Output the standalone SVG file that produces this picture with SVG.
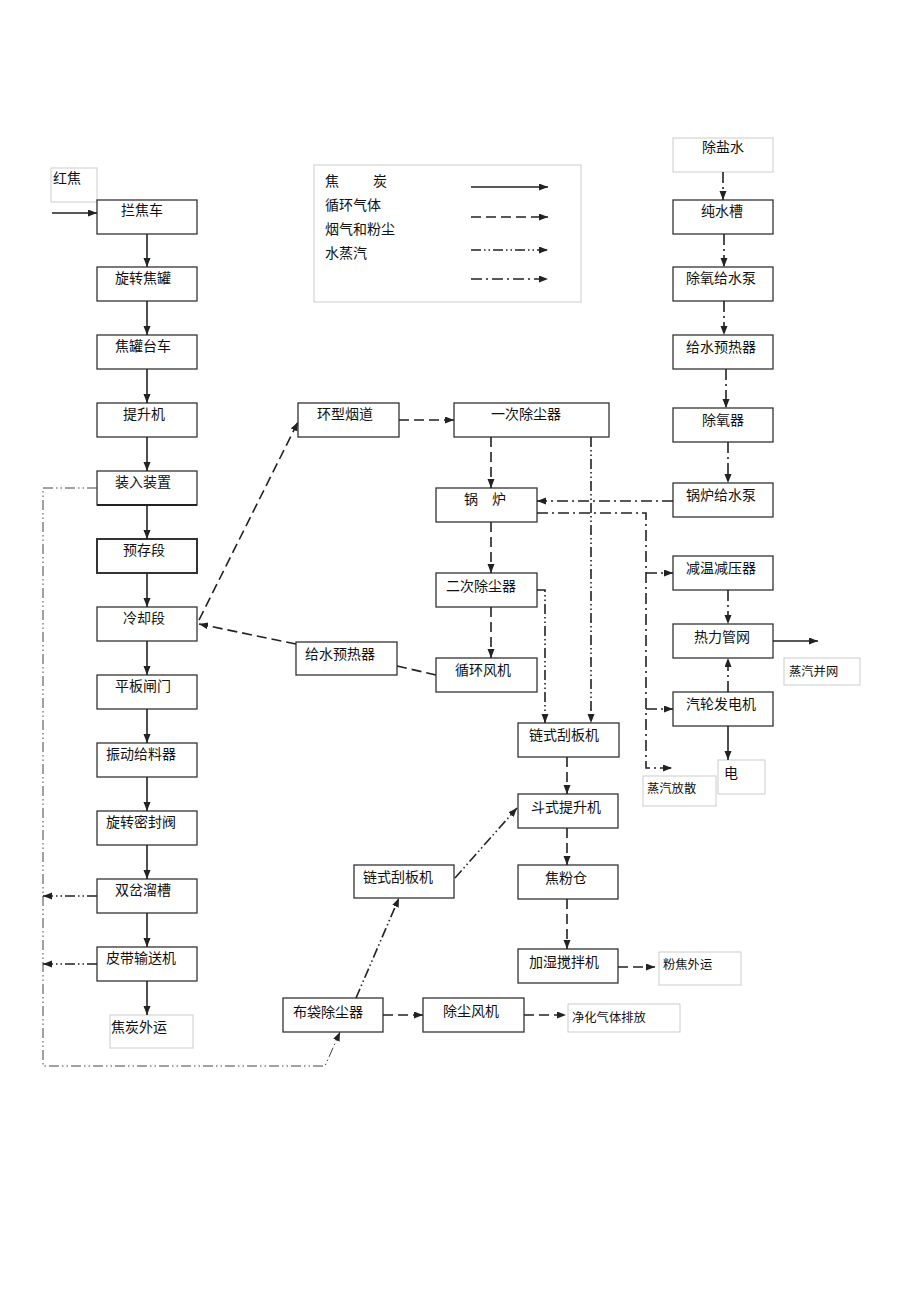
<svg xmlns="http://www.w3.org/2000/svg" width="920" height="1303" viewBox="0 0 920 1303">
<style>
.box{fill:#fff;stroke:#333;stroke-width:1.3}
.lbox{fill:#fff;stroke:#ccc;stroke-width:1}
.t{font-family:"Noto Sans CJK SC","Noto Sans",sans-serif;font-size:14px;fill:#111}
.s{font-size:12.3px}
.c{fill:none;stroke:#222;stroke-width:1.6}
.dash{stroke-dasharray:10 5}
.ddd{stroke-dasharray:10 3 1.5 3 1.5 3}
.dd{stroke-dasharray:11 4 2 4}
.thin{stroke-width:1;stroke:#444}
</style>
<defs>
<marker id="a" markerUnits="userSpaceOnUse" markerWidth="10" markerHeight="8" refX="9" refY="3.5" orient="auto"><path d="M0,0 L9,3.5 L0,7 z" fill="#222"/></marker>
</defs>
<rect width="920" height="1303" fill="#fff"/>

<g id="legend">
<rect x="314" y="165" width="267" height="137" class="lbox"/>
<text class="t" y="186"><tspan x="325">焦</tspan><tspan x="373">炭</tspan></text>
<text class="t" x="325" y="210">循环气体</text>
<text class="t" x="325" y="234">烟气和粉尘</text>
<text class="t" x="325" y="258">水蒸汽</text>
<path class="c" d="M471,187 H548" marker-end="url(#a)"/>
<path class="c dash" d="M471,217 H548" marker-end="url(#a)"/>
<path class="c ddd" d="M471,250 H548" marker-end="url(#a)"/>
<path class="c dd" d="M471,279 H548" marker-end="url(#a)"/>
</g>

<g id="n-hongjiao"><rect x="51" y="168" width="46" height="34" class="lbox"/><text class="t" x="53" y="183">红焦</text></g>
<g id="n-lanjiaoche"><rect x="97" y="200" width="100" height="34" class="box"/><text class="t" x="121" y="215">拦焦车</text></g>
<g id="n-xuanzhuanjiaoguan"><rect x="97" y="267" width="100" height="34" class="box"/><text class="t" x="115" y="283">旋转焦罐</text></g>
<g id="n-jiaoguantaiche"><rect x="97" y="335" width="100" height="34" class="box"/><text class="t" x="115" y="351">焦罐台车</text></g>
<g id="n-tishengji"><rect x="97" y="403" width="100" height="34" class="box"/><text class="t" x="123" y="419">提升机</text></g>
<g id="n-zhuangru"><rect x="97" y="471" width="100" height="34" class="box"/><line x1="97" y1="505" x2="197" y2="505" stroke="#222" stroke-width="2"/><text class="t" x="115" y="487">装入装置</text></g>
<g id="n-yucunduan"><rect x="97" y="539" width="100" height="34" class="box" style="stroke-width:2"/><text class="t" x="123" y="555">预存段</text></g>
<g id="n-lengqueduan"><rect x="97" y="607" width="100" height="34" class="box"/><text class="t" x="123" y="623">冷却段</text></g>
<g id="n-pingbanzhamen"><rect x="97" y="675" width="100" height="34" class="box"/><text class="t" x="115" y="691">平板闸门</text></g>
<g id="n-zhendong"><rect x="97" y="743" width="100" height="34" class="box"/><text class="t" x="106" y="759">振动给料器</text></g>
<g id="n-xuanzhuanmifeng"><rect x="97" y="811" width="100" height="34" class="box"/><text class="t" x="106" y="827">旋转密封阀</text></g>
<g id="n-shuangcha"><rect x="97" y="879" width="100" height="34" class="box"/><text class="t" x="115" y="895">双岔溜槽</text></g>
<g id="n-pidai"><rect x="97" y="947" width="100" height="34" class="box"/><text class="t" x="106" y="963">皮带输送机</text></g>
<g id="n-jiaotanwaiyun"><rect x="110" y="1015" width="83" height="33" class="lbox"/><text class="t" x="111" y="1032">焦炭外运</text></g>

<g id="n-huanxingyandao"><rect x="298" y="403" width="101" height="34" class="box"/><text class="t" x="317" y="419">环型烟道</text></g>
<g id="n-yiciche"><rect x="454" y="403" width="155" height="34" class="box"/><text class="t" x="491" y="419">一次除尘器</text></g>
<g id="n-guolu"><rect x="436" y="488" width="101" height="34" class="box"/><text class="t" x="464" y="504">锅　炉</text></g>
<g id="n-ercichuchen"><rect x="436" y="573" width="101" height="34" class="box"/><text class="t" x="446" y="591">二次除尘器</text></g>
<g id="n-xunhuanfengji"><rect x="436" y="658" width="101" height="34" class="box"/><text class="t" x="455" y="675">循环风机</text></g>
<g id="n-geishuiyure1"><rect x="296" y="642" width="101" height="33" class="box"/><text class="t" x="305" y="659">给水预热器</text></g>
<g id="n-lianshi1"><rect x="518" y="723" width="101" height="34" class="box"/><text class="t" x="529" y="740">链式刮板机</text></g>
<g id="n-doushi"><rect x="518" y="794" width="100" height="34" class="box"/><text class="t" x="531" y="812">斗式提升机</text></g>
<g id="n-jiaofencang"><rect x="518" y="865" width="100" height="34" class="box"/><text class="t" x="545" y="883">焦粉仓</text></g>
<g id="n-jiashi"><rect x="518" y="949" width="100" height="34" class="box"/><text class="t" x="529" y="967">加湿搅拌机</text></g>
<g id="n-fenjiaowaiyun"><rect x="659" y="952" width="82" height="33" class="lbox"/><text class="t s" x="663" y="969">粉焦外运</text></g>
<g id="n-lianshi2"><rect x="354" y="865" width="100" height="33" class="box"/><text class="t" x="363" y="882">链式刮板机</text></g>
<g id="n-budai"><rect x="283" y="998" width="100" height="34" class="box"/><text class="t" x="293" y="1017">布袋除尘器</text></g>
<g id="n-chuchenfengji"><rect x="423" y="998" width="101" height="34" class="box"/><text class="t" x="443" y="1016">除尘风机</text></g>
<g id="n-jinghua"><rect x="568" y="1004" width="112" height="28" class="lbox"/><text class="t s" x="572" y="1022">净化气体排放</text></g>

<g id="n-chuyanshui"><rect x="673" y="138" width="100" height="34" class="lbox"/><text class="t" x="702" y="152">除盐水</text></g>
<g id="n-chunshuicao"><rect x="673" y="200" width="100" height="34" class="box"/><text class="t" x="701" y="216">纯水槽</text></g>
<g id="n-chuyanggeishuibeng"><rect x="673" y="267" width="100" height="34" class="box"/><text class="t" x="686" y="283">除氧给水泵</text></g>
<g id="n-geishuiyure2"><rect x="673" y="335" width="100" height="34" class="box"/><text class="t" x="686" y="352">给水预热器</text></g>
<g id="n-chuyangqi"><rect x="673" y="408" width="100" height="34" class="box"/><text class="t" x="702" y="425">除氧器</text></g>
<g id="n-guolugeishuibeng"><rect x="673" y="483" width="100" height="34" class="box"/><text class="t" x="686" y="500">锅炉给水泵</text></g>
<g id="n-jianwen"><rect x="673" y="556" width="100" height="34" class="box"/><text class="t" x="686" y="573">减温减压器</text></g>
<g id="n-religuanwang"><rect x="673" y="624" width="100" height="34" class="box"/><text class="t" x="694" y="642">热力管网</text></g>
<g id="n-qilun"><rect x="673" y="692" width="100" height="34" class="box"/><text class="t" x="686" y="709">汽轮发电机</text></g>
<g id="n-dian"><rect x="718" y="760" width="47" height="34" class="lbox"/><text class="t" x="724" y="778">电</text></g>
<g id="n-zhengqifangsan"><rect x="643" y="776" width="73" height="30" class="lbox"/><text class="t s" x="647" y="793">蒸汽放散</text></g>
<g id="n-zhengqibingwang"><rect x="784" y="658" width="76" height="27" class="lbox"/><text class="t s" x="789" y="676">蒸汽并网</text></g>

<g id="connectors">
<path class="c" d="M52,213 H97" marker-end="url(#a)"/>
<path class="c" d="M147,234 V267" marker-end="url(#a)"/>
<path class="c" d="M147,301 V335" marker-end="url(#a)"/>
<path class="c" d="M147,369 V403" marker-end="url(#a)"/>
<path class="c" d="M147,437 V471" marker-end="url(#a)"/>
<path class="c" d="M147,505 V539" marker-end="url(#a)"/>
<path class="c" d="M147,573 V607" marker-end="url(#a)"/>
<path class="c" d="M147,641 V675" marker-end="url(#a)"/>
<path class="c" d="M147,709 V743" marker-end="url(#a)"/>
<path class="c" d="M147,777 V811" marker-end="url(#a)"/>
<path class="c" d="M147,845 V879" marker-end="url(#a)"/>
<path class="c" d="M147,913 V947" marker-end="url(#a)"/>
<path class="c" d="M147,981 V1015" marker-end="url(#a)"/>
<path class="c" d="M773,641 H818" marker-end="url(#a)"/>
<path class="c" d="M728,726 V760" marker-end="url(#a)"/>

<path class="c dash" d="M199,620 L298,422" marker-end="url(#a)"/>
<path class="c dash" d="M399,420 H454" marker-end="url(#a)"/>
<path class="c dash" d="M491,437 V488" marker-end="url(#a)"/>
<path class="c dash" d="M491,522 V573" marker-end="url(#a)"/>
<path class="c dash" d="M491,607 V658" marker-end="url(#a)"/>
<path class="c dash" d="M436,675 L397,666"/>
<path class="c dash" d="M296,644 L199,624" marker-end="url(#a)"/>
<path class="c dash" d="M567,757 V794" marker-end="url(#a)"/>
<path class="c dash" d="M567,828 V865" marker-end="url(#a)"/>
<path class="c dash" d="M567,899 V949" marker-end="url(#a)"/>
<path class="c dash" d="M618,967 H655" marker-end="url(#a)"/>
<path class="c dash" d="M383,1015 H423" marker-end="url(#a)"/>
<path class="c dash" d="M524,1015 H566" marker-end="url(#a)"/>

<path class="c ddd" d="M591,437 V723" marker-end="url(#a)"/>
<path class="c ddd" d="M537,590 H545 V723" marker-end="url(#a)"/>
<path class="c ddd thin" d="M97,488 H43 V1066 H325 L340,1032" marker-end="url(#a)"/>
<path class="c ddd" d="M97,896 H43" marker-end="url(#a)"/>
<path class="c ddd" d="M97,964 H43" marker-end="url(#a)"/>
<path class="c ddd" d="M356,998 L399,898" marker-end="url(#a)"/>
<path class="c ddd" d="M455,878 L517,808" marker-end="url(#a)"/>

<path class="c dd" d="M723,172 V200" marker-end="url(#a)"/>
<path class="c dd" d="M724,234 V267" marker-end="url(#a)"/>
<path class="c dd" d="M724,301 V335" marker-end="url(#a)"/>
<path class="c dd" d="M726,369 V408" marker-end="url(#a)"/>
<path class="c dd" d="M728,442 V483" marker-end="url(#a)"/>
<path class="c dd" d="M673,501 H537" marker-end="url(#a)"/>
<path class="c dd" d="M537,513 H646 V768 H672" marker-end="url(#a)"/>
<path class="c dd" d="M646,573 H673" marker-end="url(#a)"/>
<path class="c dd" d="M646,709 H673" marker-end="url(#a)"/>
<path class="c dd" d="M728,590 V624" marker-end="url(#a)"/>
<path class="c dd" d="M728,692 V658" marker-end="url(#a)"/>
</g>
</svg>
